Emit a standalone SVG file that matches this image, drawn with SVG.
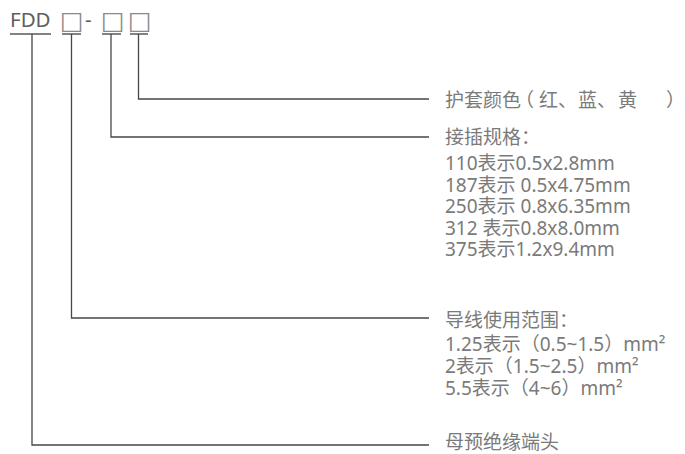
<svg xmlns="http://www.w3.org/2000/svg" width="685" height="454" viewBox="0 0 685 454">
<style>
.t{font-family:"Noto Sans","Noto Sans CJK SC",sans-serif;font-size:19px;fill:#7a7a7a}
.h{font-family:"Noto Sans",sans-serif;font-size:20.5px;fill:#5e5e5e}
.b{font-family:"DejaVu Sans",sans-serif;font-size:25px;fill:#8a8a8a}
.c{fill:none;stroke:#4a4646;stroke-width:1.3}
.u{fill:none;stroke:#5a5a5a;stroke-width:1.3}
</style>
<rect width="685" height="454" fill="#fff"/>
<g id="code">
<text class="h" x="10" y="27">FDD</text>
<text class="b" y="28.5"><tspan x="60">□</tspan><tspan x="101">□</tspan><tspan x="128">□</tspan></text>
<text class="h" x="85" y="27">-</text>
<path class="u" d="M10 34H51M62 34H81M102 34H121M130 34H148"/>
</g>
<g id="connectors">
<path class="c" d="M32 34V445H429"/>
<path class="c" d="M71.5 34V318H429"/>
<path class="c" d="M111 34V137H429"/>
<path class="c" d="M138.5 34V99H429"/>
</g>
<g id="color">
<text class="t" y="107"><tspan x="445">护套颜色</tspan><tspan x="515">（</tspan><tspan x="539">红</tspan><tspan x="558">、</tspan><tspan x="578">蓝</tspan><tspan x="597">、</tspan><tspan x="618">黄</tspan><tspan x="666">）</tspan></text>
</g>
<g id="spec">
<text class="t" x="445" y="144">接插规格：</text>
<text class="t" x="445" y="170">110表示0.5x2.8mm</text>
<text class="t" x="445" y="191.5">187表示 0.5x4.75mm</text>
<text class="t" x="445" y="213">250表示 0.8x6.35mm</text>
<text class="t" x="445" y="234.5">312 表示0.8x8.0mm</text>
<text class="t" x="445" y="256">375表示1.2x9.4mm</text>
</g>
<g id="wire">
<text class="t" x="445" y="327">导线使用范围：</text>
<text class="t" x="445" y="351">1.25表示（0.5~1.5）mm²</text>
<text class="t" x="445" y="373">2表示（1.5~2.5）mm²</text>
<text class="t" x="445" y="395">5.5表示（4~6）mm²</text>
</g>
<g id="type">
<text class="t" x="445" y="449">母预绝缘端头</text>
</g>
</svg>
